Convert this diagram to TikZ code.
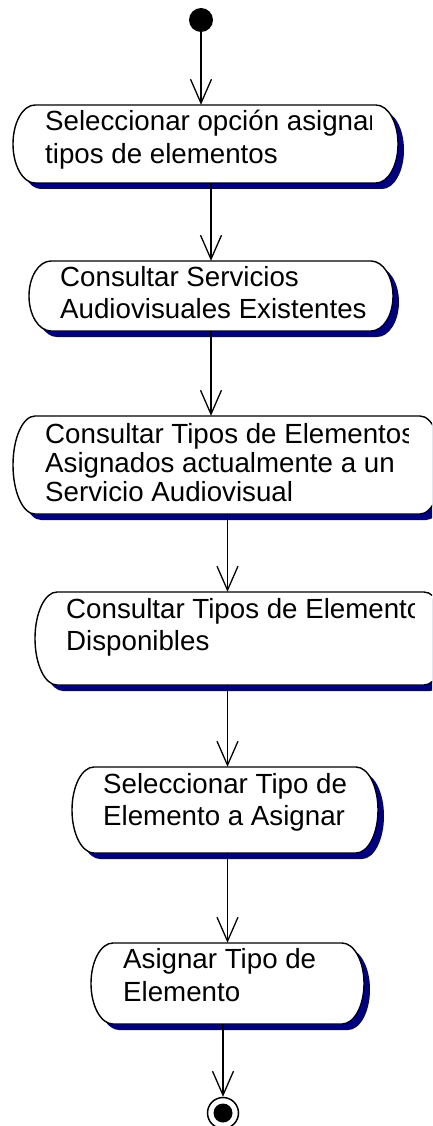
\documentclass[tikz,border=0pt]{standalone}
\usepackage{fontspec}
\setmainfont{Liberation Sans}
\usetikzlibrary{arrows.meta}
\definecolor{shadowblue}{RGB}{0,0,128}
\tikzset{
  boxline/.style={draw=black,line width=1.4pt,fill=white},
  flow/.style={line width=1.3pt,-{Straight Barb[length=24pt,width=21pt,line width=1.3pt]}},
  lbl/.style={inner sep=0pt,anchor=base west,text=black},
}
\newcommand\actbox[5]{%
  \pgfmathsetmacro\ry{(#5-#3)/2}%
  \pgfmathsetmacro\cx{(#2+#4)/2}%
  \pgfmathsetmacro\cy{-(#3+#5)/2}%
  \pgfmathsetmacro\bw{#4-#2}%
  \pgfmathsetmacro\bh{#5-#3}%
  \fill[shadowblue] ({#2+22+6},{-#3-6}) -- ({#4-22+6},{-#3-6})
     arc[start angle=90,end angle=-90,x radius=22pt,y radius=\ry pt]
     -- ({#2+22+6},{-#5-6})
     arc[start angle=270,end angle=90,x radius=22pt,y radius=\ry pt] -- cycle;
  \path[boxline] ({#2+22},{-#3}) -- ({#4-22},{-#3})
     arc[start angle=90,end angle=-90,x radius=22pt,y radius=\ry pt]
     -- ({#2+22},{-#5})
     arc[start angle=270,end angle=90,x radius=22pt,y radius=\ry pt] -- cycle;
  \node[minimum width=\bw pt,minimum height=\bh pt,inner sep=0pt,draw=none] (#1) at (\cx,\cy) {};
}
\newcommand\boxtext[6]{% name x baseline skip clipx text
  \begin{scope}
    \clip (0,{-#3+40}) rectangle (#5,{-#3-100});
    \node[lbl] (#1) at (#2,{-#3}) {\fontsize{27.7}{#4}\selectfont\parbox[t]{420pt}{#6}};
  \end{scope}
}
\begin{document}
\begin{tikzpicture}[x=1pt,y=1pt]
\useasboundingbox (0,0) rectangle (432,-1126);
\clip (0,0) rectangle (432,-1126);

\node[circle,fill=black,minimum size=24pt,inner sep=0pt] (start) at (201,-20) {};

\actbox{b1}{13}{105}{398}{183}
\boxtext{t1}{45}{131}{33}{371}{Seleccionar opción asignar\\tipos de elementos}

\actbox{b2}{29}{261}{393}{331}
\boxtext{t2}{60}{286}{32}{420}{Consultar Servicios\\Audiovisuales Existentes}

\actbox{b3}{13}{416}{442}{514}
\boxtext{t3}{45}{443}{29}{408}{Consultar Tipos de Elementos\\Asignados actualmente a un\\Servicio Audiovisual}

\actbox{b4}{35}{592}{446}{685}
\boxtext{t4}{66}{618}{32}{414}{Consultar Tipos de Elementos\\Disponibles}

\actbox{b5}{72}{767}{378}{853}
\boxtext{t5}{103}{793}{32}{420}{Seleccionar Tipo de\\Elemento a Asignar}

\actbox{b6}{91}{943}{364}{1024}
\boxtext{t6}{123}{968}{33}{420}{Asignar Tipo de\\Elemento}

\node[circle,draw=black,line width=1.5pt,fill=white,minimum size=31pt,inner sep=0pt] (end) at (223,-1113) {};
\node[circle,fill=black,minimum size=19pt,inner sep=0pt] (endin) at (end) {};

\draw[flow] (start) -- (start |- b1.north);
\draw[flow] (b2.north |- b1.south) -- (b2.north);
\draw[flow] (b2.south) -- (b2.south |- b3.north);
\draw[flow] (b3.south) -- (b3.south |- b4.north);
\draw[flow] (b6.north |- b4.south) -- (b6.north |- b5.north);
\draw[flow] (b6.north |- b5.south) -- (b6.north);
\draw[flow] (end |- b6.south) -- (end.north);
\end{tikzpicture}
\end{document}
